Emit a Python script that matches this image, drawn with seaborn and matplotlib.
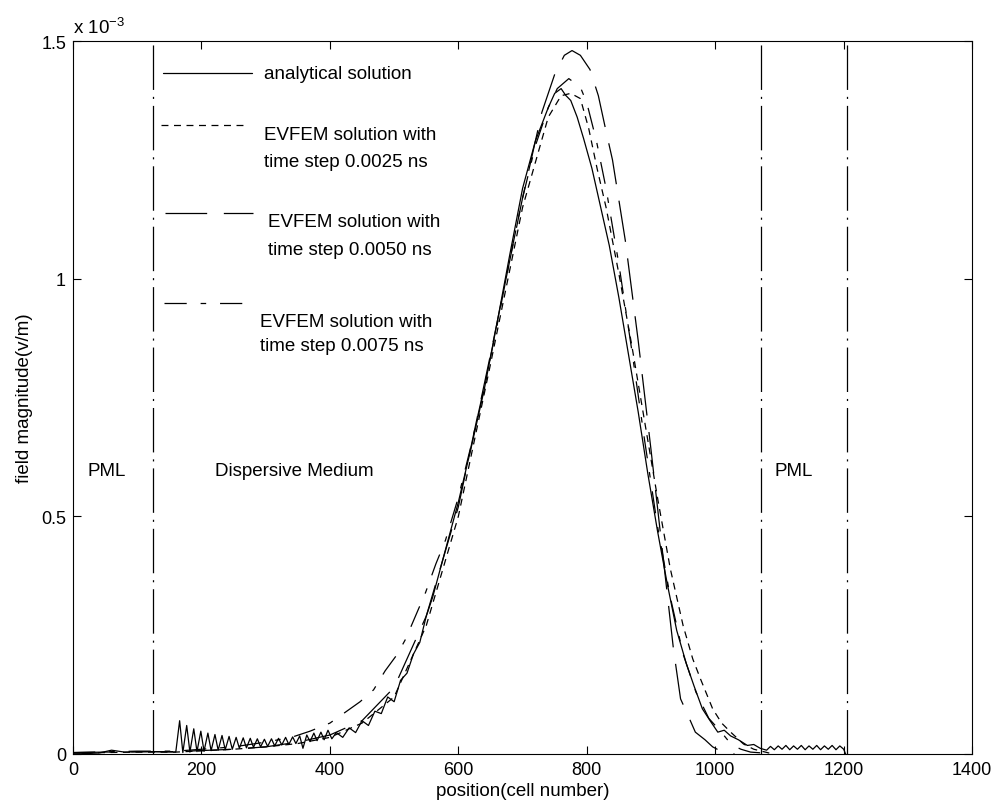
import numpy as np
import pandas as pd
import matplotlib
matplotlib.use("Agg")
import matplotlib.pyplot as plt
import seaborn as sns

# ---------------- data (field magnitude in units of 1e-3 V/m) ----------------
x_analytical = [0, 40, 60, 80, 120, 160,
                166, 171, 177, 182, 188, 193, 199, 204, 210, 215, 221, 226, 232, 237,
                243, 248, 254, 259, 265, 270, 276, 281, 287, 292, 298, 303, 309, 314,
                320, 325, 331, 336, 342, 347, 353, 358, 364, 369, 375, 380, 386, 391,
                397, 403, 410, 420, 430, 440, 450, 460, 470, 480, 490, 500, 510, 520,
                530, 540, 550, 560, 570, 580, 600, 620, 640, 660, 680, 700, 720, 740,
                750, 760, 767, 775, 785, 795, 808, 820, 835, 850, 865, 880, 895, 910,
                925, 940, 955, 967, 980, 992, 1004, 1014, 1024, 1036, 1050, 1060, 1070,
                1080, 1086, 1092, 1098, 1104, 1110, 1116, 1122, 1128, 1134, 1140, 1146,
                1152, 1158, 1164, 1170, 1176, 1182, 1188, 1194, 1200, 1203]
y_analytical = [0.0, 0.002, 0.008, 0.004, 0.005, 0.004,
                0.070, 0.003, 0.060, 0.004, 0.053, 0.005, 0.048, 0.006, 0.044, 0.007,
                0.041, 0.008, 0.039, 0.009, 0.037, 0.010, 0.035, 0.012, 0.034, 0.013,
                0.033, 0.014, 0.032, 0.015, 0.031, 0.016, 0.032, 0.017, 0.033, 0.019,
                0.035, 0.020, 0.036, 0.022, 0.038, 0.012, 0.040, 0.026, 0.044, 0.028,
                0.046, 0.030, 0.050, 0.032, 0.045, 0.035, 0.055, 0.045, 0.070, 0.060,
                0.090, 0.085, 0.120, 0.110, 0.155, 0.170, 0.210, 0.235, 0.290, 0.330,
                0.380, 0.430, 0.530, 0.645, 0.765, 0.905, 1.050, 1.190, 1.290, 1.360,
                1.390, 1.400, 1.386, 1.375, 1.340, 1.295, 1.232, 1.160, 1.070, 0.960,
                0.840, 0.720, 0.590, 0.470, 0.360, 0.260, 0.190, 0.143, 0.095, 0.070,
                0.046, 0.050, 0.038, 0.030, 0.018, 0.020, 0.012,
                0.008, 0.016, 0.009, 0.017, 0.010, 0.018, 0.009, 0.017, 0.010, 0.018,
                0.009, 0.017, 0.010, 0.018, 0.009, 0.017, 0.010, 0.018, 0.009, 0.017,
                0.010, 0.0]

x_dt0025 = [0, 100, 160, 250, 300, 350, 400, 450, 500, 550, 600, 650, 700, 740, 760,
            775, 790, 803, 816, 830, 850, 870, 890, 910, 930, 950, 965, 977, 996,
            1010, 1024, 1044, 1060, 1075, 1090]
y_dt0025 = [0.002, 0.004, 0.004, 0.010, 0.015, 0.022, 0.035, 0.065, 0.120, 0.270,
            0.500, 0.820, 1.150, 1.340, 1.385, 1.390, 1.379, 1.316, 1.232, 1.150,
            1.010, 0.860, 0.700, 0.540, 0.390, 0.270, 0.200, 0.158, 0.095, 0.065,
            0.046, 0.021, 0.010, 0.005, 0.0]

x_dt0050 = [0, 100, 160, 250, 300, 350, 400, 450, 500, 550, 600, 650, 700, 730, 750,
            765, 777, 790, 805, 818, 830, 840, 860, 880, 900, 920, 935, 946, 958,
            969, 984, 996, 1010, 1030]
y_dt0050 = [0.003, 0.005, 0.005, 0.010, 0.015, 0.025, 0.040, 0.070, 0.140, 0.290,
            0.520, 0.840, 1.170, 1.350, 1.430, 1.470, 1.480, 1.470, 1.440, 1.385,
            1.310, 1.250, 1.080, 0.870, 0.640, 0.400, 0.220, 0.116, 0.080, 0.046,
            0.030, 0.015, 0.005, 0.0]

x_dt0075 = [0, 100, 160, 250, 300, 340, 369, 400, 421, 447, 468, 486, 505, 518, 530,
            549, 565, 580, 600, 620, 640, 660, 680, 700, 720, 740, 754, 772, 790,
            800, 815, 830, 850, 870, 890, 910, 930, 950, 970, 990, 1010, 1025, 1040,
            1055, 1075]
y_dt0075 = [0.003, 0.006, 0.006, 0.015, 0.025, 0.035, 0.048, 0.065, 0.085, 0.110,
            0.135, 0.175, 0.210, 0.242, 0.280, 0.340, 0.400, 0.450, 0.540, 0.650,
            0.770, 0.900, 1.040, 1.170, 1.280, 1.360, 1.400, 1.421, 1.403, 1.370,
            1.290, 1.190, 1.030, 0.850, 0.660, 0.480, 0.330, 0.210, 0.130, 0.075,
            0.045, 0.020, 0.010, 0.004, 0.002]

boundaries = [124, 1072, 1205]
x_ticks = [0, 200, 400, 600, 800, 1000, 1200, 1400]
y_ticks = [0, 0.5, 1, 1.5]
y_ticklabels = ["0", "0.5", "1", "1.5"]
legend_labels = [["analytical solution"],
                 ["EVFEM solution with", "time step 0.0025 ns"],
                 ["EVFEM solution with", "time step 0.0050 ns"],
                 ["EVFEM solution with", "time step 0.0075 ns"]]
region_labels = ["PML", "Dispersive Medium", "PML"]
region_x = [53, 344, 1122]

# ---------------- styling ----------------
sns.set_theme(style="ticks")
plt.rcParams["font.family"] = ["Liberation Sans", "DejaVu Sans"]
plt.rcParams["mathtext.default"] = "regular"
plt.rcParams["lines.scale_dashes"] = False
for key in ["text.color", "axes.labelcolor", "xtick.color", "ytick.color",
            "axes.edgecolor"]:
    plt.rcParams[key] = "black"
FS = 13.5
TFS = 13

styles = ["-", (0, (5, 4)), (0, (30, 12)), (0, (16, 10, 4, 10))]
series = [(x_analytical, y_analytical), (x_dt0025, y_dt0025),
          (x_dt0050, y_dt0050), (x_dt0075, y_dt0075)]

fig = plt.figure(figsize=(9.99, 8.12), dpi=100)
ax = fig.add_axes([0.0731, 0.0702, 0.9, 0.878])

for (xs, ys), ls in zip(series, styles):
    df = pd.DataFrame({"x": xs, "y": ys})
    sns.lineplot(data=df, x="x", y="y", ax=ax, color="black", linewidth=0.9,
                 linestyle=ls, estimator=None, sort=False, legend=False)

for b in boundaries:
    ax.axvline(b, color="black", linewidth=0.9, linestyle=(0, (32, 5, 1.5, 5)))

ax.set_xlim(0, 1400)
ax.set_ylim(0, 1.5)
ax.set_xticks(x_ticks)
ax.set_xticklabels([str(t) for t in x_ticks], fontsize=TFS)
ax.set_yticks(y_ticks)
ax.set_yticklabels(y_ticklabels, fontsize=TFS)
ax.tick_params(direction="in", length=6, width=0.8, top=True, right=True,
               colors="black", pad=5)
for s in ax.spines.values():
    s.set_visible(True)
    s.set_color("black")
    s.set_linewidth(0.8)

ax.set_xlabel("position(cell number)", fontsize=FS, labelpad=3, color="black")
ax.set_ylabel("field magnitude(v/m)", fontsize=FS, labelpad=6, color="black")
ax.text(0.0, 1.006, r"x 10$^{-3}$", transform=ax.transAxes, fontsize=FS,
        ha="left", va="bottom", color="black")

# manual legend (line samples + text) in axes coordinates
leg_line_y = [0.9551, 0.8822, 0.7588, 0.6325]
leg_line_x = [(0.1001, 0.1991), (0.0979, 0.1913), (0.1023, 0.2002), (0.1012, 0.1947)]
leg_text_x = [0.2125, 0.2125, 0.2169, 0.2080]
leg_text_y = [[0.9551], [0.8696, 0.8317], [0.7475, 0.7083], [0.6073, 0.5736]]
for i, ls in enumerate(styles):
    ax.plot(leg_line_x[i], [leg_line_y[i]] * 2, transform=ax.transAxes,
            color="black", linewidth=0.9, linestyle=ls)
    for line, ty in zip(legend_labels[i], leg_text_y[i]):
        ax.text(leg_text_x[i], ty, line, transform=ax.transAxes,
                fontsize=FS, ha="left", va="center", color="black")

for rx, lab in zip(region_x, region_labels):
    ax.text(rx, 0.596, lab, fontsize=FS, ha="center", va="center", color="black")

fig.savefig("out.png", dpi=100)
